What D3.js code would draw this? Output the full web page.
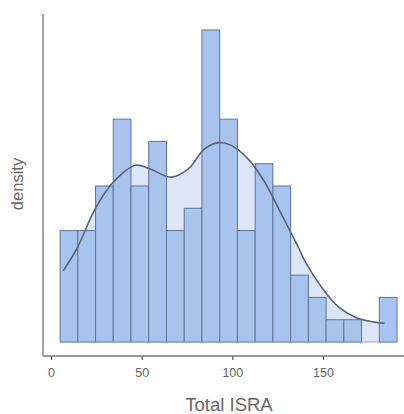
<!DOCTYPE html>
<html>
<head>
<meta charset="utf-8">
<script src="https://cdn.jsdelivr.net/npm/d3@7"></script>
<style>
  body { margin: 0; background: #fff; }
  text { font-family: "Liberation Sans", Arial, sans-serif; }
</style>
</head>
<body>
<script>
// histogram counts per bin (Total ISRA)
var binStart = 5,
    binWidth = 9.78;
var counts = [5, 5, 7, 10, 7, 9, 5, 6, 14, 10, 5, 8, 7, 3, 2, 1, 1, 0, 2];

// density curve: [Total ISRA, density]
var curveX = [6.7, 14.4, 24.4, 34.4, 46.7, 55, 66.1, 75.6, 84.4, 92.2, 99.4, 108.9, 117.8, 127.2, 136.7, 140, 149.4, 158.9, 167.8, 175, 183.9];
var curveD = [0.00305, 0.00402, 0.00572, 0.00686, 0.00758, 0.00741, 0.00707, 0.00741, 0.00826, 0.00855, 0.00843, 0.00783, 0.00686, 0.00546, 0.00402, 0.00347, 0.00233, 0.00148, 0.00106, 0.0009, 0.0008];

var xTicks = [0, 50, 100, 150];

var width = 404, height = 414;
var n = d3.sum(counts);

var svg = d3.select("body").append("svg")
    .attr("width", width)
    .attr("height", height);

var x = d3.scaleLinear().domain([0, 150]).range([51, 323]);
var y = d3.scaleLinear().domain([0, 14 / (n * binWidth)]).range([342, 30]);

var bins = counts.map(function(c, i) {
    return { x0: binStart + i * binWidth, x1: binStart + (i + 1) * binWidth, d: c / (n * binWidth) };
});
var pts = curveX.map(function(v, i) { return [v, curveD[i]]; });

// light area under the density curve
var area = d3.area()
    .x(function(d) { return x(d[0]); })
    .y0(y(0))
    .y1(function(d) { return y(d[1]); })
    .curve(d3.curveCatmullRom);

svg.append("path")
    .datum(pts)
    .attr("d", area)
    .style("fill", "#dce6f7")
    .style("stroke", "none");

svg.selectAll("rect.bar")
    .data(bins)
    .enter().append("rect")
    .attr("class", "bar")
    .attr("x", function(d) { return x(d.x0); })
    .attr("y", function(d) { return y(d.d); })
    .attr("width", function(d) { return x(d.x1) - x(d.x0); })
    .attr("height", function(d) { return y(0) - y(d.d); })
    .style("fill", function(d) { return d.d > 0 ? "#a8c3ee" : "none"; })
    .style("stroke", function(d) { return d.d > 0 ? "#5f7599" : "none"; })
    .style("stroke-width", "1px");

// baseline of the histogram
svg.append("line")
    .attr("x1", x(binStart)).attr("x2", x(binStart + counts.length * binWidth))
    .attr("y1", y(0)).attr("y2", y(0))
    .style("stroke", "#8fa6cc")
    .style("stroke-width", "1px");

var line = d3.line()
    .x(function(d) { return x(d[0]); })
    .y(function(d) { return y(d[1]); })
    .curve(d3.curveCatmullRom);

svg.append("path")
    .datum(pts)
    .attr("d", line)
    .style("fill", "none")
    .style("stroke", "#5a6478")
    .style("stroke-width", "1.6px");

// axes
var xAxis = d3.axisBottom(x).tickValues(xTicks).tickSize(4).tickPadding(8);
var gx = svg.append("g")
    .attr("transform", "translate(0,356)")
    .call(xAxis);
gx.select(".domain").remove();
gx.selectAll(".tick line").style("stroke", "#333");
gx.selectAll("text").style("font-size", "12.5px").style("fill", "#666");

svg.append("line")
    .attr("x1", 43).attr("x2", 404)
    .attr("y1", 356).attr("y2", 356)
    .style("stroke", "#777")
    .style("stroke-width", "1.5px");
svg.append("line")
    .attr("x1", 43).attr("x2", 43)
    .attr("y1", 14).attr("y2", 356)
    .style("stroke", "#888")
    .style("stroke-width", "1.5px");

svg.append("text")
    .attr("x", 229)
    .attr("y", 411)
    .style("text-anchor", "middle")
    .style("font-size", "18.5px")
    .style("fill", "#666")
    .text("Total ISRA");

svg.append("text")
    .attr("transform", "translate(23,184) rotate(-90)")
    .style("text-anchor", "middle")
    .style("font-size", "16.5px")
    .style("fill", "#666")
    .text("density");
</script>
</body>
</html>
